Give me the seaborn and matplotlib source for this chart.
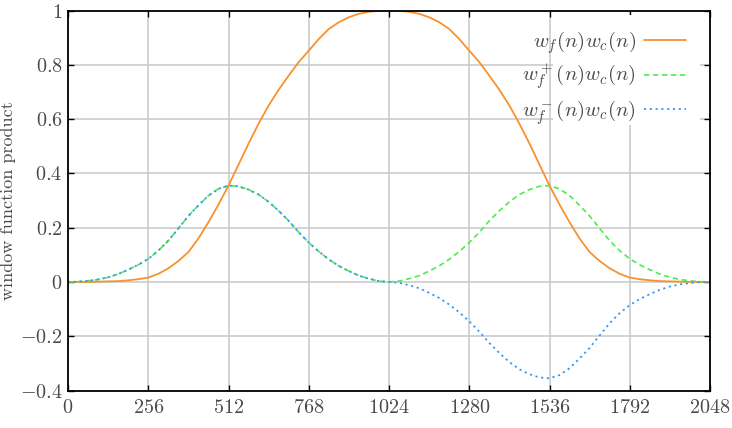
import matplotlib
matplotlib.use("Agg")
import matplotlib.pyplot as plt
from matplotlib.patches import Rectangle
import seaborn as sns
import pandas as pd

# ---- data (every 32 samples) ----
n_samples = list(range(0, 2049, 32))
wf_wc = [0.000, 0.000, 0.000, 0.001, 0.002, 0.003, 0.006, 0.010, 0.016, 0.030, 0.050, 0.077,
         0.110, 0.160, 0.220, 0.285, 0.355, 0.432, 0.510, 0.583, 0.650, 0.708, 0.760, 0.810,
         0.852, 0.895, 0.932, 0.957, 0.975, 0.988, 0.995, 0.999, 1.000,
         0.999, 0.995, 0.988, 0.975, 0.957, 0.932, 0.895, 0.852, 0.810, 0.760, 0.708, 0.650,
         0.583, 0.510, 0.432, 0.355, 0.285, 0.220, 0.160, 0.110, 0.077, 0.050, 0.030, 0.016,
         0.010, 0.006, 0.003, 0.002, 0.001, 0.000, 0.000, 0.000]
wfp_wc = [0.000, 0.001, 0.004, 0.009, 0.017, 0.029, 0.045, 0.063, 0.085, 0.115, 0.152, 0.197,
          0.243, 0.282, 0.318, 0.343, 0.355, 0.352, 0.340, 0.322, 0.295, 0.262, 0.225, 0.183,
          0.145, 0.112, 0.083, 0.059, 0.040, 0.023, 0.012, 0.003, 0.000,
          0.003, 0.012, 0.023, 0.040, 0.059, 0.083, 0.112, 0.145, 0.183, 0.225, 0.262, 0.295,
          0.322, 0.340, 0.352, 0.355, 0.343, 0.318, 0.282, 0.243, 0.197, 0.152, 0.115, 0.085,
          0.063, 0.045, 0.029, 0.017, 0.009, 0.004, 0.001, 0.000]
wfm_wc = [0.000, 0.001, 0.004, 0.009, 0.017, 0.029, 0.045, 0.063, 0.085, 0.115, 0.152, 0.197,
          0.243, 0.282, 0.318, 0.343, 0.355, 0.352, 0.340, 0.322, 0.295, 0.262, 0.225, 0.183,
          0.145, 0.112, 0.083, 0.059, 0.040, 0.023, 0.012, 0.003, 0.000,
          -0.003, -0.012, -0.023, -0.040, -0.059, -0.083, -0.112, -0.145, -0.183, -0.225,
          -0.262, -0.295, -0.322, -0.340, -0.352, -0.355, -0.343, -0.318, -0.282, -0.243,
          -0.197, -0.152, -0.115, -0.085, -0.063, -0.045, -0.029, -0.017, -0.009, -0.004,
          -0.001, 0.000]
series_labels = [r'$w_f(n)w_c(n)$', r'$w_f^+(n)w_c(n)$', r'$w_f^-(n)w_c(n)$']
xticks = [0, 256, 512, 768, 1024, 1280, 1536, 1792, 2048]
xtick_labels = ['$0$', '$256$', '$512$', '$768$', '$1024$', '$1280$', '$1536$', '$1792$', '$2048$']
yticks = [-0.4, -0.2, 0, 0.2, 0.4, 0.6, 0.8, 1]
ytick_labels = ['$-0.4$', '$-0.2$', '$0$', '$0.2$', '$0.4$', '$0.6$', '$0.8$', '$1$']
x_label = '$n$'
y_label = 'window function product'

df = pd.DataFrame({'n': n_samples, 'a': wf_wc, 'b': wfp_wc, 'c': wfm_wc})

sns.set_style('ticks')
plt.rcParams['font.family'] = 'serif'
plt.rcParams['font.serif'] = ['cmr10', 'DejaVu Serif']
plt.rcParams['mathtext.fontset'] = 'cm'
plt.rcParams['axes.unicode_minus'] = False

TXT = '#4a4a4a'

fig = plt.figure(figsize=(7.32, 4.28), dpi=100)
ax = fig.add_axes([68 / 732, 1 - 390.5 / 428, 642 / 732, 380 / 428])

sns.lineplot(data=df, x='n', y='a', ax=ax, color='#f7922c', linewidth=1.3,
             label=series_labels[0], zorder=3)
sns.lineplot(data=df, x='n', y='b', ax=ax, color='#4cec4c', linewidth=1.2,
             linestyle=(0, (3.2, 2.2)), label=series_labels[1], zorder=3)
sns.lineplot(data=df, x='n', y='c', ax=ax, color='#3a98ef', linewidth=1.3,
             linestyle=(0, (1.2, 2.0)), label=series_labels[2], zorder=3)

ax.set_xlim(0, 2048)
ax.set_ylim(-0.4, 1)
ax.set_xticks(xticks)
ax.set_xticklabels(xtick_labels)
ax.set_yticks(yticks)
ax.set_yticklabels(ytick_labels)
ax.tick_params(axis='both', direction='in', top=True, right=True, length=4.5, width=1.0,
               labelsize=14.5, labelcolor=TXT, colors='black')
ax.tick_params(axis='x', pad=6)
ax.tick_params(axis='y', pad=4)

ax.set_axisbelow(True)
ax.grid(True, color='#c8c8c8', linewidth=1.1)
for s in ax.spines.values():
    s.set_color('black')
    s.set_linewidth(1.3)
    s.set_zorder(5)

# opaque key area (covers grid only)
ax.add_patch(Rectangle((0.7555, 0.699), 0.2285, 0.289, transform=ax.transAxes,
                       facecolor='white', edgecolor='none', zorder=1))

ax.set_xlabel(x_label, fontsize=14.5, color=TXT, labelpad=5)
ax.set_ylabel(y_label, fontsize=13, color=TXT)
ax.yaxis.set_label_coords(-0.081, 0.5)

leg = ax.legend(loc='upper right', bbox_to_anchor=(0.9626, 0.95), markerfirst=False,
                frameon=False, fontsize=15, labelspacing=0.28, handlelength=2.0,
                handletextpad=0.4, borderaxespad=0, borderpad=0, labelcolor=TXT)

fig.savefig('out.png', dpi=100)
